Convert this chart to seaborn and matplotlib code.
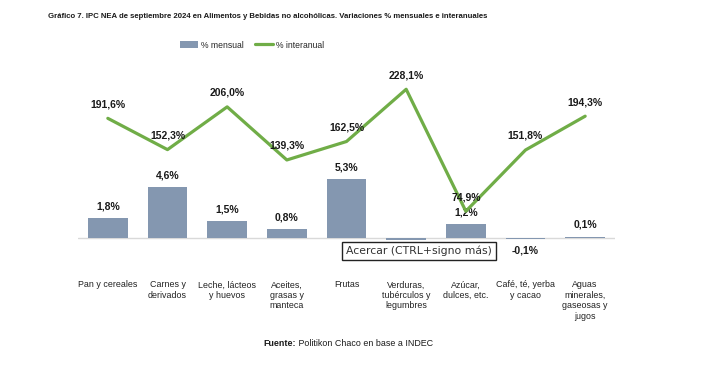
import numpy as np
import pandas as pd
import matplotlib
matplotlib.use('Agg')
import matplotlib.pyplot as plt
import seaborn as sns

# =============================================================================
# Data
# =============================================================================
categorias = ['Pan y cereales', 'Carnes y\nderivados', 'Leche, lácteos\ny huevos',
              'Aceites,\ngrasas y\nmanteca', 'Frutas', 'Verduras,\ntubérculos y\nlegumbres',
              'Azúcar,\ndulces, etc.', 'Café, té, yerba\ny cacao',
              'Aguas\nminerales,\ngaseosas y\njugos']
mensual = [1.8, 4.6, 1.5, 0.8, 5.3, -0.2, 1.2, -0.1, 0.1]
interanual = [191.6, 152.3, 206.0, 139.3, 162.5, 228.1, 74.9, 151.8, 194.3]

df = pd.DataFrame({'categoria': categorias, 'mensual': mensual, 'interanual': interanual})
df['pos'] = np.arange(len(df))

def fmt(v):
    return f"{v:.1f}".replace('.', ',') + '%'

# =============================================================================
# Style
# =============================================================================
sns.set_theme(style='white')
plt.rcParams['font.family'] = ['Liberation Sans', 'DejaVu Sans']

bar_color = '#8497B0'
line_color = '#70AD47'

fig = plt.figure(figsize=(7.24, 3.66), dpi=100)
ax = fig.add_axes([78 / 724, 1 - 270 / 366, 537 / 724, 200 / 366])

# Axis line first, bars over it
ax.axhline(0, color='#D9D9D9', lw=1, zorder=1)

# Bars: % mensual
sns.barplot(data=df, x='pos', y='mensual', color=bar_color, saturation=1,
            width=0.67, ax=ax, edgecolor='none', linewidth=0, zorder=2)

# Line: % interanual on secondary axis
ax2 = ax.twinx()
sns.lineplot(data=df, x='pos', y='interanual', color=line_color, linewidth=2.3,
             ax=ax2, sort=False)

ax.set_xlim(-0.5, len(df) - 0.5)
ax.set_ylim(-2.92, 15.18)
ax2.set_ylim(1.1, 252.3)

for a in (ax, ax2):
    for s in a.spines.values():
        s.set_visible(False)
    a.set_yticks([])
    a.set_ylabel('')
    a.set_xlabel('')
    a.grid(False)

ax.set_xticks(df['pos'])
ax.set_xticklabels(categorias, fontsize=6.4, color='#222222', linespacing=1.2,
                   va='top')
ax.tick_params(axis='x', length=0, pad=7.5)

# Data labels
for x, v in zip(df['pos'], df['mensual']):
    off = 8.4 if v >= 0 else -8.4
    ax.annotate(fmt(v), (x, v), xytext=(0, off), textcoords='offset points',
                ha='center', va='center', fontsize=7.5, fontweight='bold',
                color='#1a1a1a', annotation_clip=False, zorder=3)

for x, v in zip(df['pos'], df['interanual']):
    ax2.annotate(fmt(v), (x, v), xytext=(0, 10.2), textcoords='offset points',
                 ha='center', va='center', fontsize=7.5, fontweight='bold',
                 color='#1a1a1a', annotation_clip=False)

# Legend
handles = [ax.patches[0], ax2.lines[0]]
fig.legend(handles, ['% mensual', '% interanual'], loc='center',
           bbox_to_anchor=(252 / 724, 1 - 45 / 366), ncol=2, frameon=False,
           fontsize=6.2, handlelength=2.1, handleheight=0.8,
           handletextpad=0.25, columnspacing=1.4)

# Title
fig.text(48 / 724, 1 - 17 / 366,
         'Gráfico 7. IPC NEA de septiembre 2024 en Alimentos y Bebidas no alcohólicas. '
         'Variaciones % mensuales e interanuales',
         ha='left', va='center', fontsize=5.6, fontweight='bold', color='#1a1a1a')

# Footer
t1 = fig.text(263 / 724, 1 - 344 / 366, 'Fuente:', ha='left', va='center',
              fontsize=6.4, fontweight='bold', color='#1a1a1a')
ax.annotate(' Politikon Chaco en base a INDEC', xy=(1, 0.5), xycoords=t1,
            ha='left', va='center', fontsize=6.4, color='#1a1a1a',
            annotation_clip=False)

# Tooltip overlay
fig.text(419 / 724, 1 - 251 / 366, 'Acercar (CTRL+signo más)', ha='center',
         va='center', fontsize=7.8, family=['DejaVu Sans'], color='#333333',
         bbox=dict(boxstyle='square,pad=0.35', facecolor='white',
                   edgecolor='#222222', linewidth=1), zorder=10)

fig.savefig('out.png', dpi=100)
